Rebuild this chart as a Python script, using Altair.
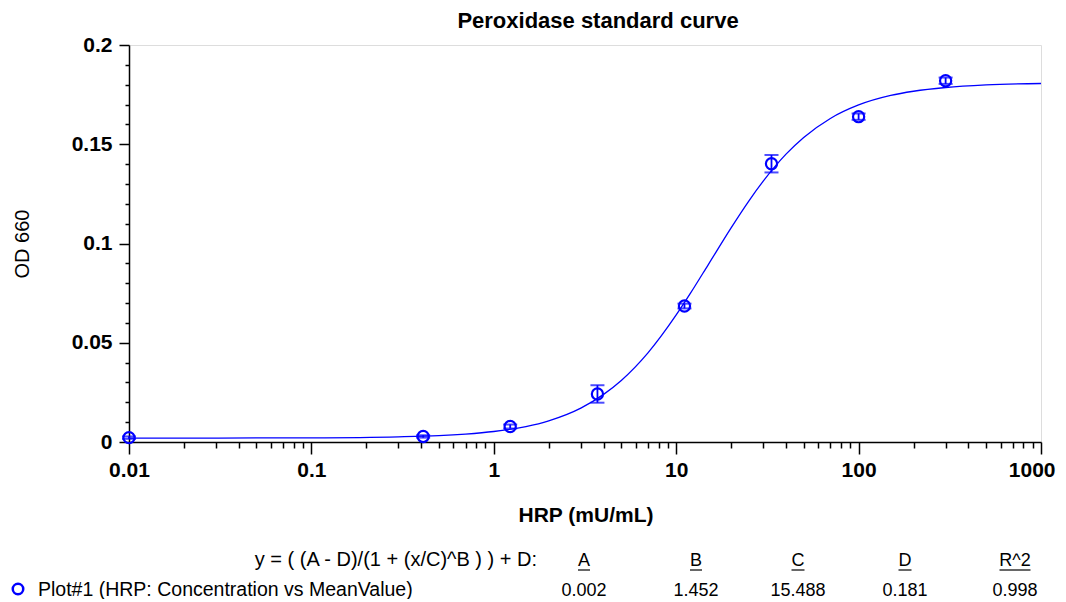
import altair as alt
import pandas as pd

# Measured standards (concentration, mean OD, error)
conc = [0.01, 0.41, 1.23, 3.7, 11.1, 33.3, 100, 300]
mean_od = [0.0022, 0.0028, 0.0078, 0.0242, 0.0685, 0.1402, 0.1639, 0.1820]
err_od = [0.0006, 0.0006, 0.0010, 0.0044, 0.0012, 0.0044, 0.0016, 0.0016]

# Fitted curve
curve_x = [0.01, 0.03, 0.1, 0.3, 0.5, 0.7, 1, 1.5, 2, 3, 4, 5, 7, 10, 12, 15, 20, 25,
           30, 40, 50, 70, 100, 150, 200, 300, 500, 1000]
curve_y = [0.0020, 0.0020, 0.0021, 0.0026, 0.0032, 0.0040, 0.0053, 0.0078, 0.0107,
           0.0171, 0.0240, 0.0310, 0.0449, 0.0640, 0.0751, 0.0894, 0.1079, 0.1214,
           0.1314, 0.1450, 0.1534, 0.1630, 0.1698, 0.1746, 0.1767, 0.1786, 0.1799, 0.1806]

x_ticks = [0.01, 0.02, 0.03, 0.04, 0.05, 0.06, 0.07, 0.08, 0.09,
           0.1, 0.2, 0.3, 0.4, 0.5, 0.6, 0.7, 0.8, 0.9,
           1, 2, 3, 4, 5, 6, 7, 8, 9,
           10, 20, 30, 40, 50, 60, 70, 80, 90,
           100, 200, 300, 400, 500, 600, 700, 800, 900, 1000]
y_ticks = [0, 0.01, 0.02, 0.03, 0.04, 0.05, 0.06, 0.07, 0.08, 0.09, 0.1,
           0.11, 0.12, 0.13, 0.14, 0.15, 0.16, 0.17, 0.18, 0.19, 0.2]

title_text = "Peroxidase standard curve"
x_title = "HRP (mU/mL)"
y_title = "OD 660"
formula_text = "y = ( (A - D)/(1 + (x/C)^B ) ) + D:"
param_names = ["A", "B", "C", "D", "R^2"]
param_values = ["0.002", "1.452", "15.488", "0.181", "0.998"]
legend_text = "Plot#1 (HRP: Concentration vs MeanValue)"

FONT = "Liberation Sans"
BLUE = "#0000FF"

pts = pd.DataFrame({
    "conc": conc,
    "od": mean_od,
    "lo": [m - e for m, e in zip(mean_od, err_od)],
    "hi": [m + e for m, e in zip(mean_od, err_od)],
})
crv = pd.DataFrame({"conc": curve_x, "od": curve_y})

x_major = "abs(log(datum.value)/LN10 - round(log(datum.value)/LN10)) < 1e-6"
x_last = "datum.value >= 999"
y_major = "abs(datum.value*20 - round(datum.value*20)) < 1e-6"

x_axis = alt.Axis(
    values=x_ticks, title=None, grid=False, format="~g",
    labelExpr=f"({x_major}) ? datum.label : ''",
    tickSize={"condition": {"test": x_major, "value": 12}, "value": 6},
    labelAlign={"condition": {"test": x_last, "value": "right"}, "value": "center"},
    labelOffset={"condition": {"test": x_last, "value": 14}, "value": 0},
    tickColor="#000", tickWidth=1.5, domainColor="#000", domainWidth=1.5,
    labelFont=FONT, labelFontSize=21, labelFontWeight="bold", labelColor="#000",
    labelPadding=5, labelFlush=False, labelOverlap=False,
)
y_axis = alt.Axis(
    values=y_ticks, title=None, grid=False, format="~g",
    labelExpr=f"({y_major}) ? datum.label : ''",
    tickSize={"condition": {"test": y_major, "value": 10}, "value": 4},
    tickColor="#000", tickWidth=1.5, domainColor="#000", domainWidth=1.5,
    labelFont=FONT, labelFontSize=21, labelFontWeight="bold", labelColor="#000",
    labelPadding=7, labelOverlap=False,
)

x_scale = alt.Scale(type="log", domain=[0.01, 1000], nice=False)
y_scale = alt.Scale(domain=[0, 0.2], nice=False, zero=True)

X = alt.X("conc:Q", scale=x_scale, axis=x_axis)

line = alt.Chart(crv).mark_line(color=BLUE, strokeWidth=1.3, interpolate="monotone").encode(
    x=X, y=alt.Y("od:Q", scale=y_scale, axis=y_axis)
)
bars = alt.Chart(pts).mark_rule(color=BLUE, strokeWidth=1.8).encode(
    x=X, y=alt.Y("lo:Q", scale=y_scale, axis=y_axis), y2="hi:Q"
)
cap_lo = alt.Chart(pts).mark_tick(color=BLUE, orient="horizontal", size=14, thickness=2).encode(
    x=X, y=alt.Y("lo:Q", scale=y_scale, axis=y_axis)
)
cap_hi = alt.Chart(pts).mark_tick(color=BLUE, orient="horizontal", size=14, thickness=2).encode(
    x=X, y=alt.Y("hi:Q", scale=y_scale, axis=y_axis)
)
points = alt.Chart(pts).mark_point(shape="circle", filled=False, color=BLUE, strokeWidth=2.2,
                                   size=125, opacity=1).encode(
    x=X, y=alt.Y("od:Q", scale=y_scale, axis=y_axis)
)

def txt(text, x, y, size, weight="normal", align="left", angle=0, baseline="alphabetic"):
    return alt.Chart(pd.DataFrame({"t": [text]})).mark_text(
        font=FONT, fontSize=size, fontWeight=weight, align=align, baseline=baseline,
        angle=angle, color="#000"
    ).encode(text="t:N", x=alt.value(x), y=alt.value(y))

# plot origin is at page (129, 45)
texts = [
    txt(title_text, 469, -17, 22, "bold", "center"),
    txt(x_title, 457, 477, 21, "bold", "center"),
    txt(y_title, -106, 199, 20, "normal", "center", angle=270, baseline="middle"),
    txt(formula_text, 408, 521, 20, "normal", "right"),
    txt(legend_text, -91, 551, 19.5, "normal", "left"),
]
col_x = [455, 567, 669, 776, 886]
col_w = [12, 12, 13, 13, 31]
for name, val, cx, w in zip(param_names, param_values, col_x, col_w):
    texts.append(txt(name, cx, 521, 18, "normal", "center"))
    texts.append(txt(val, cx, 551, 18, "normal", "center"))
    texts.append(alt.Chart(pd.DataFrame({"a": [0]})).mark_rule(color="#000", strokeWidth=1.2).encode(
        x=alt.value(cx - w / 2), x2=alt.value(cx + w / 2), y=alt.value(525)))

legend_sym = alt.Chart(pd.DataFrame({"a": [0]})).mark_point(
    shape="circle", filled=False, color=BLUE, strokeWidth=2.5, size=110, opacity=1
).encode(x=alt.value(-111), y=alt.value(544))

chart = alt.layer(line, bars, cap_lo, cap_hi, points, *texts, legend_sym).properties(
    width=912, height=397,
    autosize=alt.AutoSizeParams(type="none"),
    padding={"left": 121, "top": 37, "right": 15, "bottom": 157},
).configure_view(stroke="#000", strokeWidth=1.5).configure(background="white")

chart.save("out.html", embed_options={"renderer": "svg", "actions": False})
